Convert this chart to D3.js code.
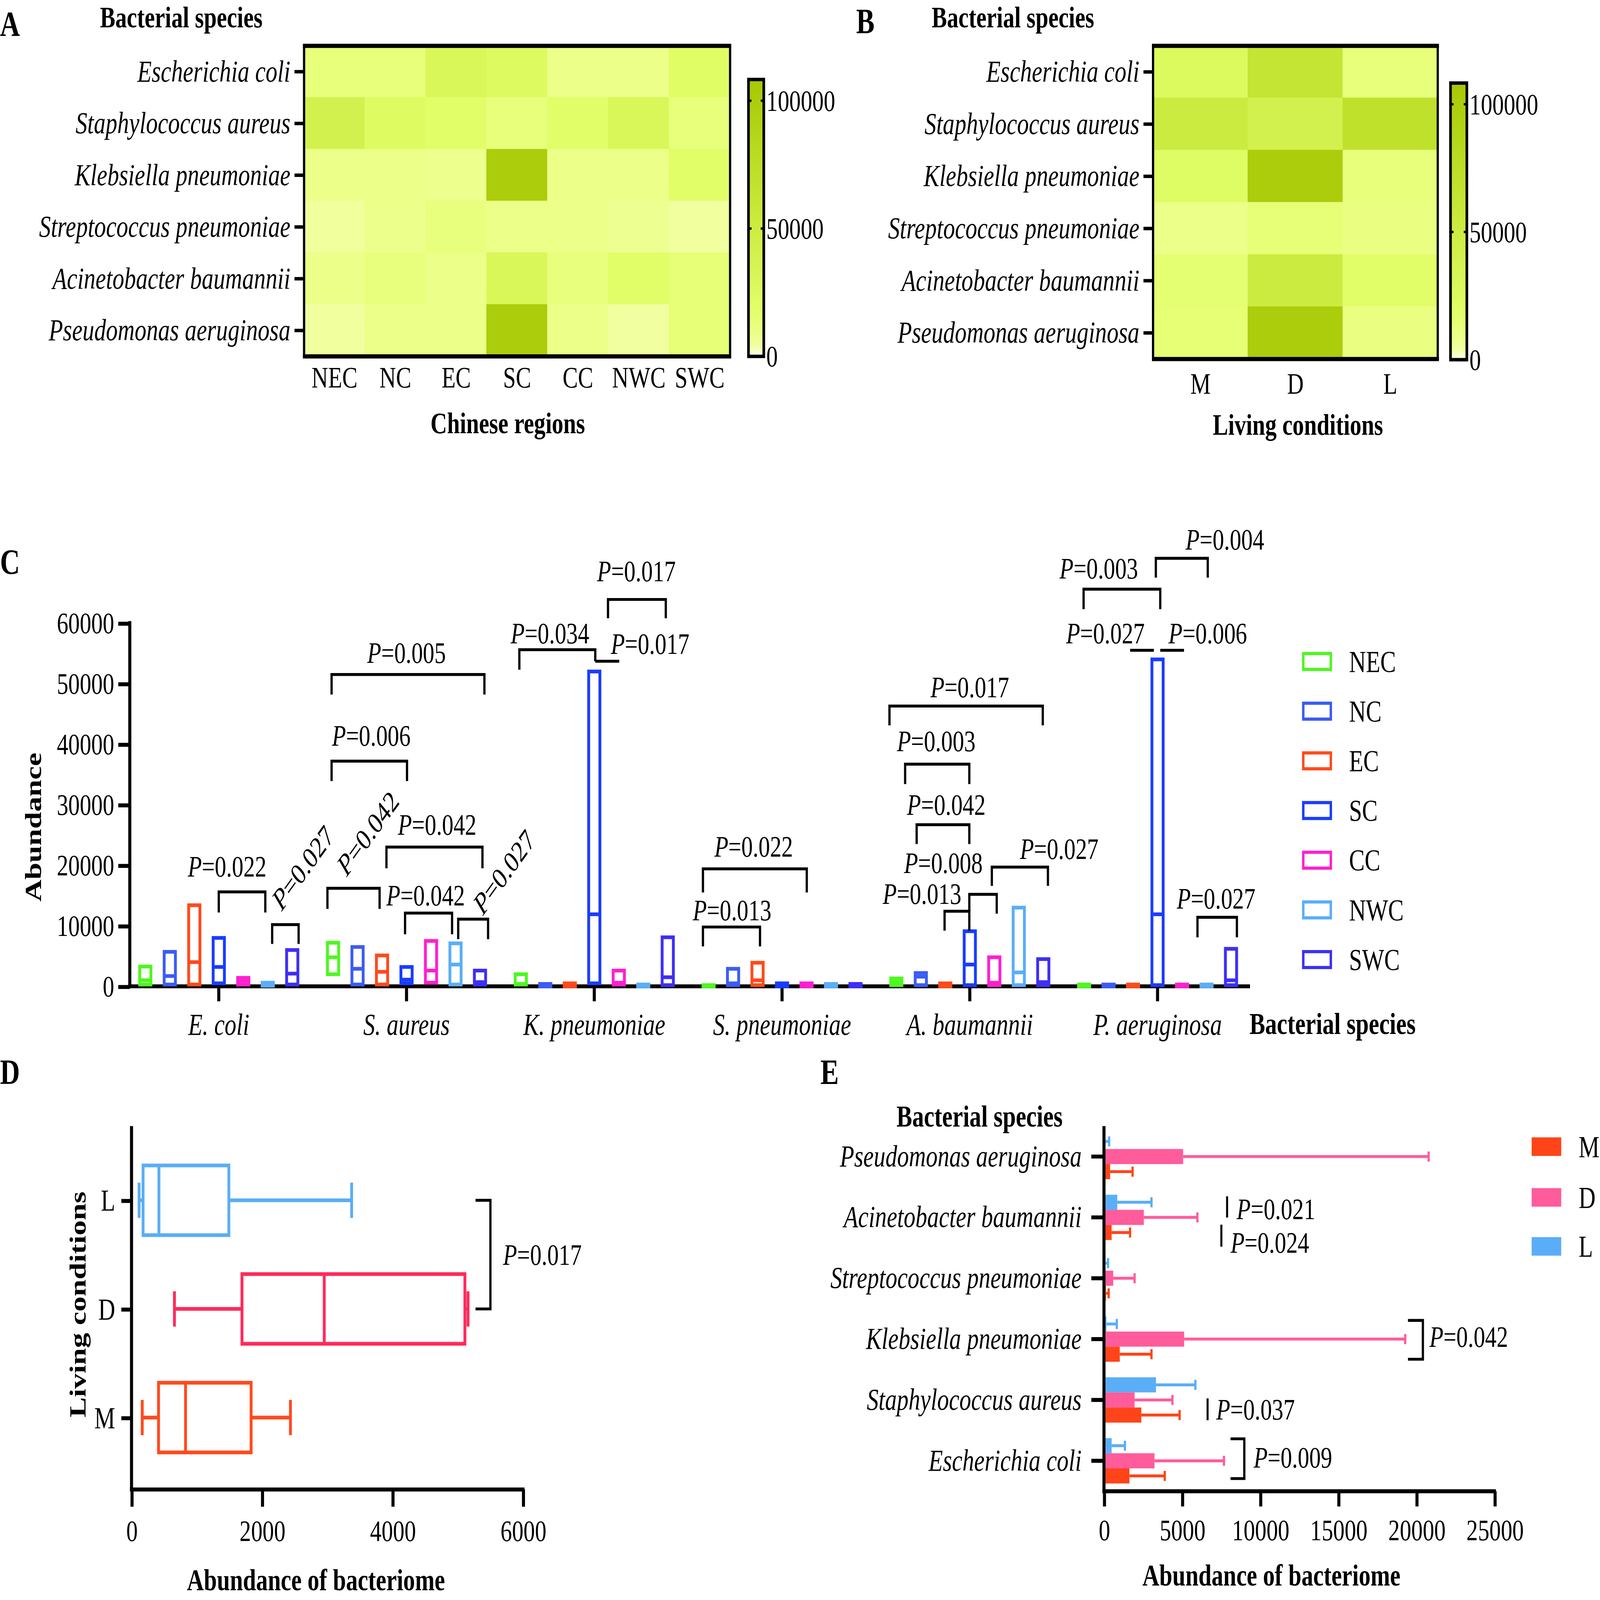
<!DOCTYPE html>
<html><head><meta charset="utf-8">
<script src="https://cdn.jsdelivr.net/npm/d3@7"></script>
<style>html,body{margin:0;padding:0;background:#fff;overflow:hidden;} svg{display:block;}</style>
</head><body>
<svg id="chart"></svg>
<script>
// ---------------- DATA ----------------
const species = ["Escherichia coli","Staphylococcus aureus","Klebsiella pneumoniae","Streptococcus pneumoniae","Acinetobacter baumannii","Pseudomonas aeruginosa"];
const speciesShort = ["E. coli","S. aureus","K. pneumoniae","S. pneumoniae","A. baumannii","P. aeruginosa"];
const regions = ["NEC","NC","EC","SC","CC","NWC","SWC"];
const conditions = ["M","D","L"];
const colorbarTicks = [0, 50000, 100000];

// Panel A: species x region
const heatRegion = [
  [12500,12500,31000,25000,9000,9000,21000],
  [40000,24000,20000,12500,20000,31000,12500],
  [9000,9000,8000,100000,9000,9000,20000],
  [5000,8500,12000,9000,9000,7000,4500],
  [9000,12000,9000,31000,12000,20000,14000],
  [4500,9000,9000,100000,9000,4300,14000]
];
// Panel B: species x living condition
const heatCondition = [
  [27000,63000,13000],
  [52000,40000,70000],
  [23000,100000,12500],
  [9000,14000,11000],
  [16000,52000,20000],
  [14500,100000,11000]
];

// Panel C: floating boxes (low, median, high), species x region
const cLow = [
  [300,300,300,500,300,100,300],
  [2000,300,300,500,600,300,300],
  [300,0,0,500,300,0,200],
  [0,200,200,0,0,0,0],
  [200,200,0,200,200,200,200],
  [0,0,0,200,0,0,200]
];
const cMed = [
  [1000,1700,4000,3200,900,300,2100],
  [4800,2900,2400,1100,2600,3600,700],
  [400,200,200,11900,600,150,1500],
  [100,500,1000,250,250,200,200],
  [700,1600,250,3600,600,2300,700],
  [150,150,150,11900,150,150,1000]
];
const cHigh = [
  [3270,5700,13400,8000,1400,600,6000],
  [7200,6500,5100,3200,7500,7100,2600],
  [2000,400,500,52000,2600,300,8100],
  [200,2900,3900,500,500,400,400],
  [1300,2200,500,9100,4800,13000,4500],
  [300,300,300,54000,300,300,6200]
];
const cYTicks = [0,10000,20000,30000,40000,50000,60000];
// [species idx, slot a, slot b, top, left leg end, right leg end, p, label slot, label value, rotation]
const cBrackets = [
  [0, 3.0, 4.9, 15600, 12200, 12200, "0.022", 3.34, 19800, 0],
  [0, 5.18, 6.26, 10200, 7000, 7000, "0.027", 6.43, 19600, -47],
  [1, -0.06, 6.18, 51500, 48200, 48200, "0.005", 3.0, 55100, 0],
  [1, -0.06, 3.02, 37200, 33900, 33900, "0.006", 1.56, 41400, 0],
  [1, -0.23, 1.9, 16200, 12800, 12800, "0.042", 1.42, 25300, -47],
  [1, 2.18, 6.1, 23000, 19500, 19500, "0.042", 4.25, 26700, 0],
  [1, 2.94, 4.86, 12100, 8600, 8600, "0.042", 3.78, 15000, 0],
  [1, 5.11, 6.33, 11100, 7800, 7800, "0.027", 6.98, 18900, -47],
  [2, -0.06, 3.04, 55600, 52300, 53700, "0.034", 1.19, 58300, 0],
  [2, 3.04, 4.02, 53700, 53700, 53700, "0.017", 5.28, 56600, 0],
  [2, 3.56, 5.92, 63900, 60800, 60800, "0.017", 4.72, 68600, 0],
  [3, -0.23, 4.01, 19400, 15500, 15500, "0.022", 1.84, 23100, 0],
  [3, -0.23, 2.1, 9800, 6600, 6600, "0.013", 0.96, 12600, 0],
  [4, -0.28, 5.98, 46300, 43100, 43100, "0.017", 3.0, 49400, 0],
  [4, 0.36, 2.98, 36700, 33400, 33400, "0.003", 1.63, 40500, 0],
  [4, 0.83, 2.98, 26700, 23500, 23500, "0.042", 2.04, 30000, 0],
  [4, 2.98, 4.1, 15200, 12400, 12000, "0.008", 1.92, 20400, 0],
  [4, 1.97, 2.98, 12400, 9200, 9200, "0.013", 1.05, 15300, 0],
  [4, 3.9, 6.19, 19700, 16600, 16600, "0.027", 6.65, 22700, 0],
  [5, -0.02, 3.11, 65600, 62300, 62300, "0.003", 0.6, 69000, 0],
  [5, 2.93, 5.05, 70700, 67500, 67500, "0.004", 5.75, 73800, 0],
  [5, 1.88, 2.85, 55500, 55500, 55500, "0.027", 0.87, 58300, 0],
  [5, 3.11, 4.08, 55500, 55500, 55500, "0.006", 5.05, 58300, 0],
  [5, 4.63, 6.24, 11400, 8100, 8100, "0.027", 5.39, 14500, 0]
];

// Panel D: box plot per living condition (M, D, L)
const dMin = [164, 658, 116];
const dQ1 = [414, 1693, 177];
const dMed = [828, 2954, 420];
const dQ3 = [1833, 5110, 1492];
const dMax = [2436, 5158, 3374];
const dXTicks = [0,2000,4000,6000];

// Panel E: mean and upper error end per species
const eMeanM = [1630, 2390, 1010, 130, 490, 392];
const eEndM  = [3890, 4840, 3040, 300, 1670, 1830];
const eMeanD = [3235, 1960, 5130, 590, 2550, 5065];
const eEndD  = [7680, 4380, 19280, 1960, 5980, 20780];
const eMeanL = [490, 3330, 160, 100, 850, 100];
const eEndL  = [1340, 5850, 820, 260, 3040, 330];
const eXTicks = [0,5000,10000,15000,20000,25000];

// ---------------- STYLE ----------------
const FONT = "'Liberation Serif','Times New Roman',serif";
const FS = 22.5;
const regionColors = ["#4cf81e","#3b5cf2","#ff4a1c","#1a3cff","#ff1fd0","#5aaef7","#3e2ff5"];
const condColorsD = {M:"#ff4a1c", D:"#ff2a5c", L:"#5aaef5"};
const condColorsE = {M:"#ff4419", D:"#ff5c9c", L:"#5aaef7"};

const W = 1568, H = 1207.7;
const vw = window.innerWidth || 5906, vh = window.innerHeight || 4549;
const svg = d3.select("#chart").attr("width",vw).attr("height",vh).attr("viewBox",`0 0 ${W} ${H}`)
  .attr("preserveAspectRatio","none").attr("font-family", FONT);
svg.append("rect").attr("width",W).attr("height",H).attr("fill","#fff");

function txt(g, x, y, s, o = {}) {
  return g.append("text").attr("x",x).attr("y",y).text(s)
    .attr("font-size", o.size || FS)
    .attr("font-weight", o.bold ? "bold" : "normal")
    .attr("font-style", o.italic ? "italic" : "normal")
    .attr("text-anchor", o.anchor || "start")
    .attr("dominant-baseline", "central")
    .attr("fill","#000");
}
function pLabel(g, x, y, p, rot, anchor) {
  const t = g.append("text").attr("transform",`translate(${x},${y}) rotate(${rot||0})`)
    .attr("font-size",FS).attr("text-anchor",anchor||"middle").attr("dominant-baseline","central").attr("fill","#000");
  t.append("tspan").attr("font-style","italic").text("P");
  t.append("tspan").text("=" + p);
  return t;
}
function styleAxis(g, sw, fs, italic) {
  g.select("path.domain").remove();
  g.selectAll(".tick line").attr("stroke","#000").attr("stroke-width",sw);
  g.selectAll(".tick text").attr("font-family",FONT).attr("font-size",fs||FS).attr("fill","#000")
    .attr("font-style", italic ? "italic" : "normal");
}

const heatColor = d3.scaleLinear()
  .domain([0, 4000, 9000, 14000, 22000, 35000, 50000, 75000, 108300])
  .range(["#fbfff0","#f2ffa2","#ecff88","#e6ff76","#dffd64","#d6f454","#cdec42","#bcde26","#a6c804"]);

const defs = svg.append("defs");
const grad = defs.append("linearGradient").attr("id","cbgrad").attr("x1",0).attr("y1",1).attr("x2",0).attr("y2",0);
d3.range(0,1.0001,0.02).forEach(t => grad.append("stop").attr("offset",t).attr("stop-color",heatColor(t*108300)));

function drawHeat(cols, vals, box, cb, titleX, xTitle, xTitleX) {
  const g = svg.append("g");
  const x = d3.scaleBand().domain(cols).range([box.x0, box.x1]);
  const y = d3.scaleBand().domain(species).range([box.y0, box.y1]);
  species.forEach((s,r) => cols.forEach((c,ci) => {
    const col = heatColor(vals[r][ci]);
    g.append("rect").attr("x",x(c)).attr("y",y(s)).attr("width",x.bandwidth()).attr("height",y.bandwidth())
      .attr("fill",col).attr("stroke",col).attr("stroke-width",0.6);
  }));
  g.append("rect").attr("x",box.x0).attr("y",box.y0).attr("width",box.x1-box.x0).attr("height",box.y1-box.y0)
    .attr("fill","none").attr("stroke","#000").attr("stroke-width",2.2);
  [box.y0, box.y1].forEach(yy => g.append("line").attr("x1",box.x0-1.1).attr("x2",box.x1+1.1).attr("y1",yy).attr("y2",yy)
    .attr("stroke","#000").attr("stroke-width",3.2));
  const ay = g.append("g").attr("transform",`translate(${box.x0},0)`).call(d3.axisLeft(y).tickSize(9.4).tickPadding(4));
  styleAxis(ay, 2.6, 23, true);
  cols.forEach(c => txt(g, x(c)+x.bandwidth()/2, box.xl, c, {anchor:"middle"}));
  txt(g, xTitleX, box.xt, xTitle, {bold:true, anchor:"middle"});
  txt(g, titleX, 13, "Bacterial species", {bold:true});
  // colorbar
  const yc = d3.scaleLinear().domain([0,108300]).range([cb.y1, cb.y0]);
  g.append("rect").attr("x",cb.x0).attr("y",cb.y0).attr("width",cb.x1-cb.x0).attr("height",cb.y1-cb.y0)
    .attr("fill","url(#cbgrad)").attr("stroke","#000").attr("stroke-width",2.6);
  colorbarTicks.filter(t => t > 0).forEach(t => {
    g.append("line").attr("x1",cb.x0).attr("x2",cb.x0+3).attr("y1",yc(t)).attr("y2",yc(t)).attr("stroke","#000").attr("stroke-width",1.8);
    g.append("line").attr("x1",cb.x1-3).attr("x2",cb.x1).attr("y1",yc(t)).attr("y2",yc(t)).attr("stroke","#000").attr("stroke-width",1.8);
  });
  const ac = g.append("g").attr("transform",`translate(${cb.x1},0)`)
    .call(d3.axisRight(yc).tickValues(colorbarTicks).tickSize(0).tickPadding(2.5).tickFormat(d3.format("d")));
  styleAxis(ac, 0, FS, false);
}

drawHeat(regions, heatRegion, {x0:298, x1:715.5, y0:34.6, y1:269, xl:285, xt:319.5},
  {x0:733.5, x1:748.5, y0:60, y1:269}, 98, "Chinese regions", 497.6);
drawHeat(conditions, heatCondition, {x0:1130, x1:1409, y0:34.6, y1:271, xl:289.5, xt:320.5},
  {x0:1421.5, x1:1437.5, y0:62.7, y1:271.5}, 913, "Living conditions", 1272);

txt(svg, 0, 18, "A", {bold:true, size:27});
txt(svg, 839, 16, "B", {bold:true, size:27});
txt(svg, 0, 424, "C", {bold:true, size:27});
txt(svg, 0, 809, "D", {bold:true, size:27});
txt(svg, 804, 809, "E", {bold:true, size:27});

// ---------------- PANEL C ----------------
{
  const g = svg.append("g");
  const x = d3.scaleBand().domain(speciesShort).range([122.4, 1226.4]);
  const y = d3.scaleLinear().domain([0,60000]).range([744.5, 470.3]);
  const SLOT = 24, BW = 11;
  const sx = (k, i) => x(speciesShort[k]) + x.bandwidth()/2 + (i-3)*SLOT;

  const ay = g.append("g").attr("transform","translate(127.2,0)")
    .call(d3.axisLeft(y).tickValues(cYTicks).tickSize(11.3).tickPadding(4).tickFormat(d3.format("d")));
  styleAxis(ay, 3);
  g.append("line").attr("x1",127.2).attr("x2",127.2).attr("y1",y(60000)-1.5).attr("y2",y(0)+1.5).attr("stroke","#000").attr("stroke-width",3);
  const ax = g.append("g").attr("transform",`translate(0,${y(0)})`)
    .call(d3.axisBottom(x).tickSize(11.3).tickFormat(""));
  styleAxis(ax, 3);
  g.append("line").attr("x1",125.7).attr("x2",1225).attr("y1",y(0)).attr("y2",y(0)).attr("stroke","#000").attr("stroke-width",3);
  speciesShort.forEach(s => txt(g, x(s)+x.bandwidth()/2, 773.3, s, {italic:true, anchor:"middle", size:23}));
  txt(g, 1224.5, 772.6, "Bacterial species", {bold:true, size:23});
  g.append("text").attr("transform","translate(32.5,624.3) rotate(-90)").attr("text-anchor","middle")
    .attr("dominant-baseline","central").attr("font-size",23).attr("font-weight","bold").text("Abundance");

  species.forEach((s,k) => regions.forEach((r,i) => {
    const cx = sx(k,i), top = y(cHigh[k][i]), bot = y(cLow[k][i]);
    g.append("rect").attr("x",cx-BW/2).attr("y",top).attr("width",BW).attr("height",Math.max(0.3,bot-top))
      .attr("fill","none").attr("stroke",regionColors[i]).attr("stroke-width",2.8);
    g.append("line").attr("x1",cx-BW/2).attr("x2",cx+BW/2).attr("y1",y(cMed[k][i])).attr("y2",y(cMed[k][i]))
      .attr("stroke",regionColors[i]).attr("stroke-width",2.8);
  }));

  cBrackets.forEach(b => {
    const [k,a,bb,top,ll,rl,p,ls,lv,rot] = b;
    const xa = sx(k,a), xb = sx(k,bb);
    g.append("path").attr("d",`M${xa},${y(ll)}L${xa},${y(top)}L${xb},${y(top)}L${xb},${y(rl)}`)
      .attr("fill","none").attr("stroke","#000").attr("stroke-width",2.2);
    pLabel(g, sx(k,ls), y(lv), p, rot);
  });

  regions.forEach((r,i) => {
    const cy = 499.3 + i*37.5;
    g.append("rect").attr("x",1277.2).attr("y",cy-6).attr("width",27).attr("height",12)
      .attr("fill","none").attr("stroke",regionColors[i]).attr("stroke-width",2.4);
    txt(g, 1322, cy, r, {size:23});
  });
}

// ---------------- PANEL D ----------------
{
  const g = svg.append("g");
  const x = d3.scaleLinear().domain([0,6000]).range([128.9, 512.5]);
  const y = d3.scalePoint().domain(["L","D","M"]).range([906, 1070]);
  const ax = g.append("g").attr("transform","translate(0,1124.3)")
    .call(d3.axisBottom(x).tickValues(dXTicks).tickSize(13).tickPadding(10).tickFormat(d3.format("d")));
  styleAxis(ax, 3);
  g.append("line").attr("x1",127.4).attr("x2",514).attr("y1",1124.3).attr("y2",1124.3).attr("stroke","#000").attr("stroke-width",3);
  const ay = g.append("g").attr("transform","translate(128.9,0)")
    .call(d3.axisLeft(y).tickSize(10).tickPadding(6));
  styleAxis(ay, 3, 23);
  g.append("line").attr("x1",128.9).attr("x2",128.9).attr("y1",850).attr("y2",1125.8).attr("stroke","#000").attr("stroke-width",3);
  g.append("text").attr("transform","translate(76,984.6) rotate(-90)").attr("text-anchor","middle")
    .attr("dominant-baseline","central").attr("font-size",23).attr("font-weight","bold").text("Living conditions");
  txt(g, 309.6, 1192.6, "Abundance of bacteriome", {bold:true, anchor:"middle", size:23});

  const BH = 26.3, CH = 13.3;
  conditions.forEach((c,i) => {
    const cy = y(c), col = condColorsD[c];
    const L = (x1,x2,y1,y2) => g.append("line").attr("x1",x1).attr("x2",x2).attr("y1",y1).attr("y2",y2)
      .attr("stroke",col).attr("stroke-width",2.8);
    L(x(dMin[i]), x(dQ1[i]), cy, cy);
    L(x(dQ3[i]), x(dMax[i]), cy, cy);
    L(x(dMin[i]), x(dMin[i]), cy-CH, cy+CH);
    L(x(dMax[i]), x(dMax[i]), cy-CH, cy+CH);
    g.append("rect").attr("x",x(dQ1[i])).attr("y",cy-BH).attr("width",x(dQ3[i])-x(dQ1[i])).attr("height",2*BH)
      .attr("fill","none").attr("stroke",col).attr("stroke-width",2.8);
    L(x(dMed[i]), x(dMed[i]), cy-BH, cy+BH);
  });
  const bx1 = x(5273), bx2 = x(5501);
  g.append("path").attr("d",`M${bx1},${y("L")}L${bx2},${y("L")}L${bx2},${y("D")}L${bx1},${y("D")}`)
    .attr("fill","none").attr("stroke","#000").attr("stroke-width",2.2);
  pLabel(g, x(5695), (y("L")+y("D"))/2, "0.017", 0, "start");
}

// ---------------- PANEL E ----------------
{
  const g = svg.append("g");
  const x = d3.scaleLinear().domain([0,25000]).range([1081.9, 1464.7]);
  const y = d3.scaleBand().domain(species).range([1125.6, 850]);
  const cyOf = s => y(s) + y.bandwidth()/2;
  const BH = 11.4;
  const ax = g.append("g").attr("transform","translate(0,1125.6)")
    .call(d3.axisBottom(x).tickValues(eXTicks).tickSize(11.5).tickPadding(9.6).tickFormat(d3.format("d")));
  styleAxis(ax, 3);
  g.append("line").attr("x1",1080.4).attr("x2",1466).attr("y1",1125.6).attr("y2",1125.6).attr("stroke","#000").attr("stroke-width",3);
  const ay = g.append("g").attr("transform","translate(1081.9,0)")
    .call(d3.axisLeft(y).tickSize(12.4).tickPadding(9.5));
  styleAxis(ay, 3, 23, true);
  g.append("line").attr("x1",1081.9).attr("x2",1081.9).attr("y1",850).attr("y2",1127).attr("stroke","#000").attr("stroke-width",3);
  txt(g, 960, 842.6, "Bacterial species", {bold:true, anchor:"middle", size:23});
  txt(g, 1246, 1189, "Abundance of bacteriome", {bold:true, anchor:"middle", size:23});

  const series = [
    {c:"L", mean:eMeanL, end:eEndL, off:-1.5},
    {c:"D", mean:eMeanD, end:eEndD, off:-0.5},
    {c:"M", mean:eMeanM, end:eEndM, off:0.5}
  ];
  series.forEach(sr => species.forEach((s,k) => {
    const y0 = cyOf(s) + sr.off*BH, col = condColorsE[sr.c];
    const ym = y0 + BH/2;
    g.append("line").attr("x1",x(sr.mean[k])).attr("x2",x(sr.end[k])).attr("y1",ym).attr("y2",ym)
      .attr("stroke",col).attr("stroke-width",2.2);
    g.append("line").attr("x1",x(sr.end[k])).attr("x2",x(sr.end[k])).attr("y1",ym-3.8).attr("y2",ym+3.8)
      .attr("stroke",col).attr("stroke-width",2.2);
    g.append("rect").attr("x",x(0)+1.5).attr("y",y0).attr("width",Math.max(0,x(sr.mean[k])-x(0)-1.5)).attr("height",BH)
      .attr("fill",col);
  }));

  const vline = (s, v, o1, o2) => g.append("line").attr("x1",x(v)).attr("x2",x(v))
    .attr("y1",cyOf(s)+o1).attr("y2",cyOf(s)+o2).attr("stroke","#000").attr("stroke-width",2);
  const rbr = (s, v1, v2, o1, o2) => g.append("path")
    .attr("d",`M${x(v1)},${cyOf(s)+o1}L${x(v2)},${cyOf(s)+o1}L${x(v2)},${cyOf(s)+o2}L${x(v1)},${cyOf(s)+o2}`)
    .attr("fill","none").attr("stroke","#000").attr("stroke-width",2.2);
  vline(species[4], 7880, -15.9, 0.1); pLabel(g, x(8492), cyOf(species[4]) - 6.4, "0.021", 0, "start");
  vline(species[4], 7513, 5.5, 22.1); pLabel(g, x(8100), cyOf(species[4]) + 19.1, "0.024", 0, "start");
  rbr(species[2], 19457, 20410, -14.1, 15.2); pLabel(g, x(20828), cyOf(species[2]) - 1.8, "0.042", 0, "start");
  vline(species[1], 6631, -1.2, 15.3); pLabel(g, x(7186), cyOf(species[1]) + 7.3, "0.037", 0, "start");
  rbr(species[0], 8100, 8981, -16.6, 13.4); pLabel(g, x(9575), cyOf(species[0]) - 2.6, "0.009", 0, "start");

  ["M","D","L"].forEach((c,i) => {
    const cy = [865.5, 903.8, 940.8][i];
    g.append("rect").attr("x",1501).attr("y",cy-7).attr("width",29).attr("height",14).attr("fill",condColorsE[c]);
    txt(g, 1547, cy, c, {size:23});
  });
}
</script>
</body></html>
